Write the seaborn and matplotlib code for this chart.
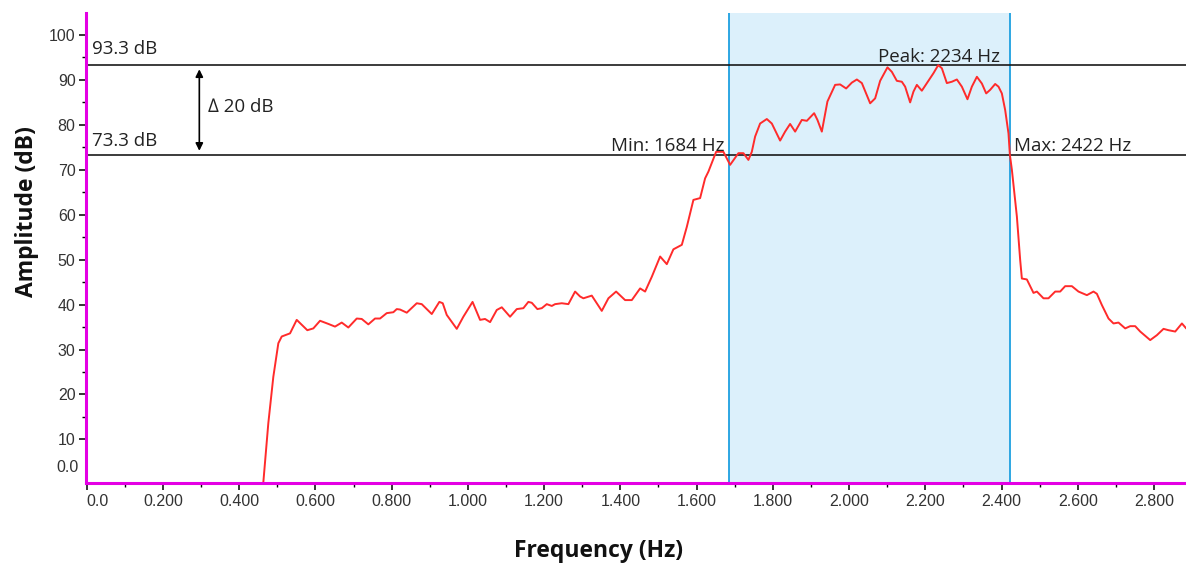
import matplotlib
matplotlib.use("Agg")
import matplotlib.pyplot as plt
import seaborn as sns
from matplotlib.ticker import FixedLocator

# Spectrum trace: frequency in kHz, amplitude in dB
freq_khz = [
    0.459, 0.4765, 0.4896, 0.5028, 0.5117, 0.5335, 0.5510, 0.5788, 0.5946, 0.6122,
    0.6340, 0.6515, 0.6691, 0.6864, 0.7085, 0.7216, 0.7389, 0.7565, 0.7696, 0.7872,
    0.8045, 0.8134, 0.8221, 0.8397, 0.8659, 0.8790, 0.9053, 0.9252, 0.9341, 0.9446,
    0.9709, 0.9882, 1.0123, 1.0320, 1.0451, 1.0583, 1.0758, 1.0890, 1.1107, 1.1283,
    1.1456, 1.1587, 1.1677, 1.1824, 1.1939, 1.2070, 1.2202, 1.2288, 1.2464, 1.2637,
    1.2813, 1.2944, 1.3031, 1.3251, 1.3382, 1.3513, 1.3687, 1.3889, 1.4125, 1.4301,
    1.4519, 1.4650, 1.4826, 1.5044, 1.5219, 1.5392, 1.5613, 1.5744, 1.5917, 1.6093,
    1.6224, 1.6311, 1.6513, 1.6704, 1.6880, 1.7098, 1.7229, 1.7360, 1.7449, 1.7536,
    1.7667, 1.7843, 1.7974, 1.8192, 1.8323, 1.8454, 1.8586, 1.8761, 1.8893, 1.9084,
    1.9171, 1.9286, 1.9433, 1.9635, 1.9766, 1.9924, 2.0073, 2.0205, 2.0336, 2.0554,
    2.0685, 2.0816, 2.1008, 2.1123, 2.1254, 2.1385, 2.1472, 2.1603, 2.1690, 2.1779,
    2.1910, 2.2084, 2.2215, 2.2340, 2.2435, 2.2566, 2.2698, 2.2829, 2.2960, 2.3107,
    2.3222, 2.3354, 2.3485, 2.3598, 2.3703, 2.3834, 2.3921, 2.4009, 2.4096, 2.4183,
    2.4220, 2.4272, 2.4403, 2.4490, 2.4534, 2.4665, 2.4839, 2.4928, 2.5101, 2.5232,
    2.5408, 2.5539, 2.5670, 2.5846, 2.6019, 2.6240, 2.6413, 2.6502, 2.6633, 2.6807,
    2.6938, 2.7069, 2.7245, 2.7376, 2.7507, 2.7639, 2.7901, 2.8077, 2.8250, 2.8381,
    2.8557, 2.8733, 2.8845, 2.9000,
]
amp_db = [
    -4.0, 13.6, 23.9, 31.4, 32.9, 33.6, 36.6, 34.3, 34.7, 36.4,
    35.7, 35.1, 36.0, 34.9, 36.9, 36.8, 35.6, 36.9, 36.9, 38.1,
    38.3, 39.0, 38.9, 38.2, 40.3, 40.1, 37.9, 40.6, 40.3, 37.7,
    34.6, 37.3, 40.6, 36.6, 36.8, 36.1, 38.8, 39.4, 37.3, 39.0,
    39.2, 40.6, 40.4, 39.0, 39.2, 40.1, 39.7, 40.1, 40.3, 40.1,
    42.9, 41.8, 41.4, 42.0, 40.3, 38.6, 41.4, 42.9, 41.0, 41.0,
    43.6, 42.9, 46.2, 50.7, 49.0, 52.3, 53.3, 57.3, 63.3, 63.7,
    68.1, 69.6, 74.0, 74.0, 71.1, 73.7, 73.7, 72.2, 74.0, 77.4,
    80.3, 81.3, 80.3, 76.5, 78.5, 80.2, 78.5, 81.1, 80.9, 82.6,
    81.1, 78.5, 85.2, 88.9, 89.0, 88.1, 89.4, 90.1, 89.3, 84.8,
    85.9, 89.8, 92.8, 91.8, 89.8, 89.6, 88.5, 85.0, 87.4, 88.9,
    87.6, 89.8, 91.5, 93.3, 92.6, 89.3, 89.6, 90.1, 88.5, 85.7,
    88.5, 90.7, 89.2, 87.0, 87.8, 89.1, 88.5, 87.0, 83.3, 78.1,
    73.3, 70.0, 59.6, 49.9, 45.8, 45.6, 42.6, 42.9, 41.4, 41.4,
    42.9, 42.9, 44.1, 44.1, 42.9, 42.1, 42.9, 42.4, 39.9, 36.9,
    35.8, 36.0, 34.7, 35.2, 35.2, 34.0, 32.1, 33.2, 34.6, 34.3,
    34.0, 35.8, 34.7, 34.0,
]

# Measurement markers
peak_khz = 2.234
peak_db = 93.3
low_db = 73.3
band_lo_khz = 1.684
band_hi_khz = 2.422
drop_db = 20

x_ticks = [0.0, 0.2, 0.4, 0.6, 0.8, 1.0, 1.2, 1.4, 1.6, 1.8, 2.0, 2.2, 2.4, 2.6, 2.8]
x_tick_labels = ["0.0", "0.200", "0.400", "0.600", "0.800", "1.000", "1.200",
                 "1.400", "1.600", "1.800", "2.000", "2.200", "2.400", "2.600", "2.800"]
x_minor = [0.1, 0.3, 0.5, 0.7, 0.9, 1.1, 1.3, 1.5, 1.7, 1.9, 2.1, 2.3, 2.5, 2.7]
y_ticks = [10, 20, 30, 40, 50, 60, 70, 80, 90, 100]
y_minor = [15, 25, 35, 45, 55, 65, 75, 85, 95]

sns.set_theme(style="white")
plt.rcParams["font.family"] = ["Liberation Sans", "DejaVu Sans"]
note_font = ["Open Sans", "DejaVu Sans"]

W, H = 1186, 565
fig = plt.figure(figsize=(W / 100, H / 100), dpi=100)
fig.patch.set_facecolor("white")
left_px, right_px, top_px, bottom_px = 86, 1186, 13.3, 482.7
ax = fig.add_axes([left_px / W, 1 - bottom_px / H,
                   (right_px - left_px) / W, (bottom_px - top_px) / H])
ax.set_facecolor("white")

# Selected band
ax.axvspan(band_lo_khz, band_hi_khz, color="#dcf0fb", lw=0, zorder=0)
for xb in (band_lo_khz, band_hi_khz):
    ax.axvline(xb, color="#1ea0e0", lw=1.3, zorder=1)

# Level lines
for yl in (peak_db, low_db):
    ax.axhline(yl, color="#1a1a1a", lw=1.2, zorder=2)

sns.lineplot(x=freq_khz, y=amp_db, ax=ax, color="#ff2b2b", lw=1.4,
             sort=False, estimator=None, zorder=3)

ax.set_xlim(-0.0018, 2.884)
ax.set_ylim(0.36, 104.83)

# Axes styling
for side in ("top", "right"):
    ax.spines[side].set_visible(False)
for side in ("left", "bottom"):
    ax.spines[side].set_color("#e400e4")
    ax.spines[side].set_linewidth(2.2)
    ax.spines[side].set_zorder(5)

ax.set_xticks(x_ticks, labels=x_tick_labels)
ax.xaxis.set_minor_locator(FixedLocator(x_minor))
ax.set_yticks(y_ticks, labels=[str(v) for v in y_ticks])
ax.yaxis.set_minor_locator(FixedLocator(y_minor))
ax.tick_params(axis="x", which="major", direction="out", length=5, width=1.1,
               color="black", labelsize=11.5, labelcolor="#333333", pad=3,
               bottom=True)
ax.tick_params(axis="x", which="minor", direction="out", length=2.6, width=1.0,
               color="black", bottom=True)
ax.tick_params(axis="y", which="major", direction="out", length=5, width=1.1,
               color="black", labelsize=11.5, labelcolor="#333333", pad=2.5,
               left=True)
ax.tick_params(axis="y", which="minor", direction="out", length=2.6, width=1.0,
               color="black", left=True)
ax.get_xticklabels()[0].set_horizontalalignment("left")
ax.grid(False)
ax.set_xlabel("")
ax.set_ylabel("")

# Zero label on the value axis
ax.annotate("0.0", xy=(0, 3.85), xycoords=("axes fraction", "data"),
            xytext=(-5, 0), textcoords="offset points", ha="right", va="center",
            fontsize=11.5, color="#333333")

# Level labels
ax.annotate(f"{peak_db:.1f} dB", xy=(0, peak_db), xycoords=("axes fraction", "data"),
            xytext=(4, 8), textcoords="offset points", ha="left", va="baseline",
            fontsize=13.5, color="#222222", family=note_font)
ax.annotate(f"{low_db:.1f} dB", xy=(0, low_db), xycoords=("axes fraction", "data"),
            xytext=(4, 6.5), textcoords="offset points", ha="left", va="baseline",
            fontsize=13.5, color="#222222", family=note_font)

# Drop arrow
arrow_x = 0.2955
ax.annotate("", xy=(arrow_x, low_db), xytext=(arrow_x, peak_db),
            arrowprops=dict(arrowstyle="<|-|>", color="black", lw=1.2,
                            shrinkA=3, shrinkB=3, mutation_scale=11))
ax.annotate(f"\u2206 {drop_db} dB", xy=(arrow_x, (peak_db + low_db) / 2),
            xytext=(6, 2), textcoords="offset points", ha="left", va="center",
            fontsize=13.5, color="#222222", family=note_font)

# Band labels
ax.annotate(f"Peak: {round(peak_khz * 1000)} Hz", xy=(band_hi_khz, peak_db),
            xytext=(-7, 2.2), textcoords="offset points", ha="right", va="baseline",
            fontsize=13.5, color="#222222", family=note_font)
ax.annotate(f"Min: {round(band_lo_khz * 1000)} Hz", xy=(band_lo_khz, low_db),
            xytext=(-3, 3), textcoords="offset points", ha="right", va="baseline",
            fontsize=13.5, color="#222222", family=note_font)
ax.annotate(f"Max: {round(band_hi_khz * 1000)} Hz", xy=(band_hi_khz, low_db),
            xytext=(3, 3), textcoords="offset points", ha="left", va="baseline",
            fontsize=13.5, color="#222222", family=note_font)

# Axis titles
fig.text(27 / W, 1 - 212 / H, "Amplitude (dB)", rotation=90, ha="center",
         va="center", fontsize=16.5, fontweight="bold", color="#111111",
         family=note_font)
fig.text(598 / W, 1 - 551 / H, "Frequency (Hz)", ha="center", va="center",
         fontsize=16.5, fontweight="bold", color="#111111", family=note_font)

fig.savefig("out.png", dpi=100, facecolor="white")
